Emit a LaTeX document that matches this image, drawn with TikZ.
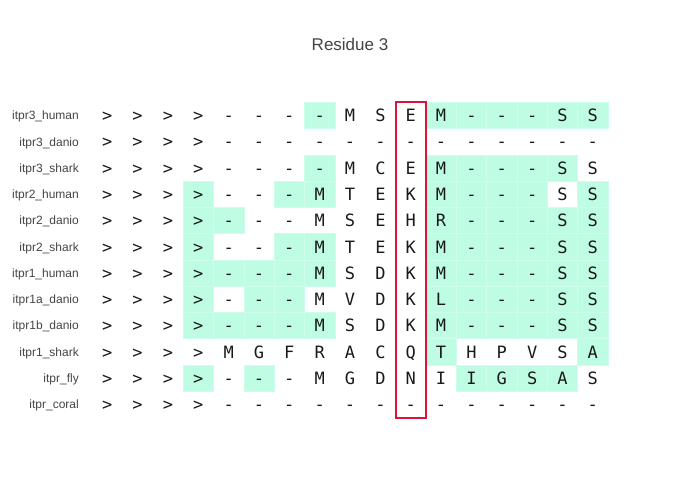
\documentclass[tikz,border=0pt]{standalone}
\usepackage{fontspec}
\setmainfont{Liberation Sans}
\newfontfamily\seqfont{DejaVu Sans Mono}
\definecolor{hl}{RGB}{190,253,228}
\definecolor{hlline}{RGB}{205,254,236}
\definecolor{lbl}{RGB}{68,68,68}
\definecolor{frame}{RGB}{220,20,60}
\tikzset{
  cellbg/.style={fill=hl, draw=hlline, line width=0.6pt},
  letter/.style={anchor=base, inner sep=0pt, font=\seqfont\fontsize{17}{17}\selectfont, text=black!90},
  rowlabel/.style={anchor=base east, inner sep=0pt, font=\fontsize{12}{12}\selectfont, text=lbl},
  titlestyle/.style={anchor=base, inner sep=0pt, font=\fontsize{17}{17}\selectfont, text=lbl},
  framebox/.style={draw=frame, line width=2pt}
}
\begin{document}
\begin{tikzpicture}[x=1pt,y=-1pt]
\useasboundingbox (0,0) rectangle (700,500);
\def\cx#1{107.25+30.35*#1}
\def\cy#1{115.5+26.27*#1}
% highlighted cells
\foreach \r/\cl in {
  0/{7,11,12,13,14,15,16},
  2/{7,11,12,13,14,15},
  3/{3,6,7,11,12,13,14,16},
  4/{3,4,11,12,13,14,15,16},
  5/{3,6,7,11,12,13,14,15,16},
  6/{3,4,5,6,7,11,12,13,14,15,16},
  7/{3,5,6,11,12,13,14,15,16},
  8/{3,4,5,6,7,11,12,13,14,15,16},
  9/{11,16},
  10/{3,5,12,13,14,15}}{
  \foreach \c in \cl {
    \path[cellbg] ({\cx{\c}-15.175},{\cy{\r}-13.135}) rectangle ({\cx{\c}+15.175},{\cy{\r}+13.135});
  }
}
% sequence letters
\foreach \r/\seq in {
  0/{>,>,>,>,-,-,-,-,M,S,E,M,-,-,-,S,S},
  1/{>,>,>,>,-,-,-,-,-,-,-,-,-,-,-,-,-},
  2/{>,>,>,>,-,-,-,-,M,C,E,M,-,-,-,S,S},
  3/{>,>,>,>,-,-,-,M,T,E,K,M,-,-,-,S,S},
  4/{>,>,>,>,-,-,-,M,S,E,H,R,-,-,-,S,S},
  5/{>,>,>,>,-,-,-,M,T,E,K,M,-,-,-,S,S},
  6/{>,>,>,>,-,-,-,M,S,D,K,M,-,-,-,S,S},
  7/{>,>,>,>,-,-,-,M,V,D,K,L,-,-,-,S,S},
  8/{>,>,>,>,-,-,-,M,S,D,K,M,-,-,-,S,S},
  9/{>,>,>,>,M,G,F,R,A,C,Q,T,H,P,V,S,A},
  10/{>,>,>,>,-,-,-,M,G,D,N,I,I,G,S,A,S},
  11/{>,>,>,>,-,-,-,-,-,-,-,-,-,-,-,-,-}}{
  \foreach \ch [count=\c from 0] in \seq {
    \node[letter] (cell-\r-\c) at ({\cx{\c}},{\cy{\r}+6.2}) {\ch};
  }
}
% row labels
\foreach \r/\t in {0/itpr3\_human,1/itpr3\_danio,2/itpr3\_shark,3/itpr2\_human,4/itpr2\_danio,5/itpr2\_shark,6/itpr1\_human,7/itpr1a\_danio,8/itpr1b\_danio,9/itpr1\_shark,10/itpr\_fly,11/itpr\_coral}{
  \node[rowlabel] (lab-\r) at (79,{\cy{\r}+4.3}) {\t};
}
% frame around residue 3 column
\draw[framebox] ({\cx{10}-15.175},{\cy{0}-13.135}) rectangle ({\cx{10}+15.175},{\cy{11}+13.135});
% title
\node[titlestyle] (title) at (350,51) {Residue 3};
\end{tikzpicture}
\end{document}
